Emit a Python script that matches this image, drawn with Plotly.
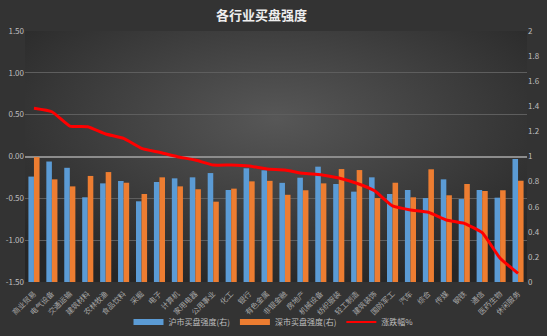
import base64
import plotly.graph_objects as go

# 行业类别
categories = ["商业贸易", "电气设备", "交通运输", "建筑材料", "农林牧渔", "食品饮料", "采掘",
              "电子", "计算机", "家用电器", "公用事业", "化工", "银行", "有色金属", "非银金融",
              "房地产", "机械设备", "纺织服装", "轻工制造", "建筑装饰", "国防军工", "汽车",
              "综合", "传媒", "钢铁", "通信", "医药生物", "休闲服务"]

# 沪市买盘强度（右轴）
sh_strength = [0.84, 0.96, 0.91, 0.675, 0.786, 0.805, 0.643, 0.797, 0.826, 0.834, 0.868,
               0.733, 0.906, 0.89, 0.79, 0.831, 0.919, 0.781, 0.72, 0.834, 0.701, 0.733,
               0.669, 0.818, 0.661, 0.733, 0.672, 0.98]

# 深市买盘强度（右轴）
sz_strength = [0.995, 0.818, 0.762, 0.845, 0.876, 0.791, 0.701, 0.834, 0.762, 0.739, 0.64,
               0.744, 0.802, 0.806, 0.695, 0.731, 0.786, 0.9, 0.892, 0.669, 0.791, 0.675,
               0.898, 0.691, 0.781, 0.725, 0.731, 0.807]

# 涨跌幅%（左轴）
pct_change = [0.576, 0.535, 0.364, 0.356, 0.269, 0.217, 0.098, 0.05, -0.002, -0.042, -0.102,
              -0.102, -0.114, -0.149, -0.161, -0.201, -0.217, -0.257, -0.32, -0.41, -0.591,
              -0.639, -0.667, -0.759, -0.799, -0.911, -1.216, -1.396]

left_ticks = [1.5, 1.0, 0.5, 0.0, -0.5, -1.0, -1.5]
left_tick_text = ["1.50", "1.00", "0.50", "0.00", "-0.50", "-1.00", "-1.50"]
right_ticks = [0, 0.2, 0.4, 0.6, 0.8, 1, 1.2, 1.4, 1.6, 1.8, 2]
right_tick_text = ["0", "0.2", "0.4", "0.6", "0.8", "1", "1.2", "1.4", "1.6", "1.8", "2"]

LEFT_RANGE = [-1.5, 1.5]
RIGHT_RANGE = [0, 2]


def left_to_right(v):
    """Position of a left-axis value expressed on the right axis scale."""
    frac = (v - LEFT_RANGE[0]) / (LEFT_RANGE[1] - LEFT_RANGE[0])
    return RIGHT_RANGE[0] + frac * (RIGHT_RANGE[1] - RIGHT_RANGE[0])


# gridlines follow the left-axis ticks (zero line drawn separately)
grid_vals = [left_to_right(v) for v in left_ticks if v != 0]

blue = "#5B9BD5"
orange = "#ED7D31"
red = "#FF0000"
label_color = "#bfbfbf"
font_family = "Noto Sans CJK SC"

# dark radial background
svg = """<svg xmlns='http://www.w3.org/2000/svg' width='547' height='336'>
<defs><radialGradient id='g' cx='50%' cy='35%' r='70%'>
<stop offset='0%' stop-color='#575757'/><stop offset='100%' stop-color='#262626'/>
</radialGradient></defs><rect width='547' height='336' fill='url(#g)'/></svg>"""
bg_src = "data:image/svg+xml;base64," + base64.b64encode(svg.encode()).decode()

fig = go.Figure()
fig.add_trace(go.Bar(x=categories, y=sh_strength, name="沪市买盘强度(右)", showlegend=False,
                     marker=dict(color=blue, line=dict(width=0)), yaxis="y"))
fig.add_trace(go.Bar(x=categories, y=sz_strength, name="深市买盘强度(右)", showlegend=False,
                     marker=dict(color=orange, line=dict(width=0)), yaxis="y"))
fig.add_trace(go.Scatter(x=categories, y=pct_change, name="涨跌幅%", mode="lines",
                         showlegend=False,
                         line=dict(color=red, width=3, shape="spline", smoothing=0.4),
                         yaxis="y2"))

# legend keys drawn as wide flat swatches
for name, color, width in [("沪市买盘强度(右)", blue, 6), ("深市买盘强度(右)", orange, 6),
                           ("涨跌幅%", red, 2)]:
    fig.add_trace(go.Scatter(x=[None], y=[None], name=name, mode="lines",
                             line=dict(color=color, width=width), yaxis="y2"))

fig.update_layout(
    width=547, height=336,
    margin=dict(l=25, r=20, t=31, b=54),
    paper_bgcolor="#333333", plot_bgcolor="rgba(0,0,0,0)",
    images=[dict(source=bg_src, xref="paper", yref="paper", x=0, y=1,
                 sizex=1, sizey=1, xanchor="left", yanchor="top", layer="below",
                 sizing="stretch")],
    title=dict(text="<b>各行业买盘强度</b>", x=0.478, xanchor="center", y=0.955,
               yanchor="middle",
               font=dict(family=font_family, size=13, color="#eeeeee")),
    font=dict(family=font_family, size=8, color=label_color),
    barmode="group", bargap=0.38, bargroupgap=0.0,
    showlegend=True,
    legend=dict(orientation="h", x=0.5, xanchor="center", xref="container",
                y=0.042, yanchor="middle", yref="container",
                font=dict(size=8, color=label_color), bgcolor="rgba(0,0,0,0)",
                itemwidth=30, tracegroupgap=0),
    xaxis=dict(tickangle=-45, tickfont=dict(size=7.5, color="#a6a6a6"),
               showgrid=False, showline=False, ticks="", ticklabelstandoff=5,
               automargin=False),
    yaxis=dict(side="right", range=RIGHT_RANGE, tickvals=right_ticks, ticktext=right_tick_text,
               showgrid=False, zeroline=False, showline=False,
               minor=dict(tickvals=grid_vals, showgrid=True, gridcolor="#5e5e5e",
                          gridwidth=1, ticks=""),
               tickfont=dict(size=8, color=label_color), automargin=False),
    yaxis2=dict(side="left", overlaying="y", range=LEFT_RANGE, tickvals=left_ticks,
                ticktext=left_tick_text, showgrid=False,
                zeroline=True, zerolinecolor="#8c8c8c", zerolinewidth=1.5, showline=False,
                tickfont=dict(size=8, color=label_color), automargin=False),
)

fig.write_html("out.html")
